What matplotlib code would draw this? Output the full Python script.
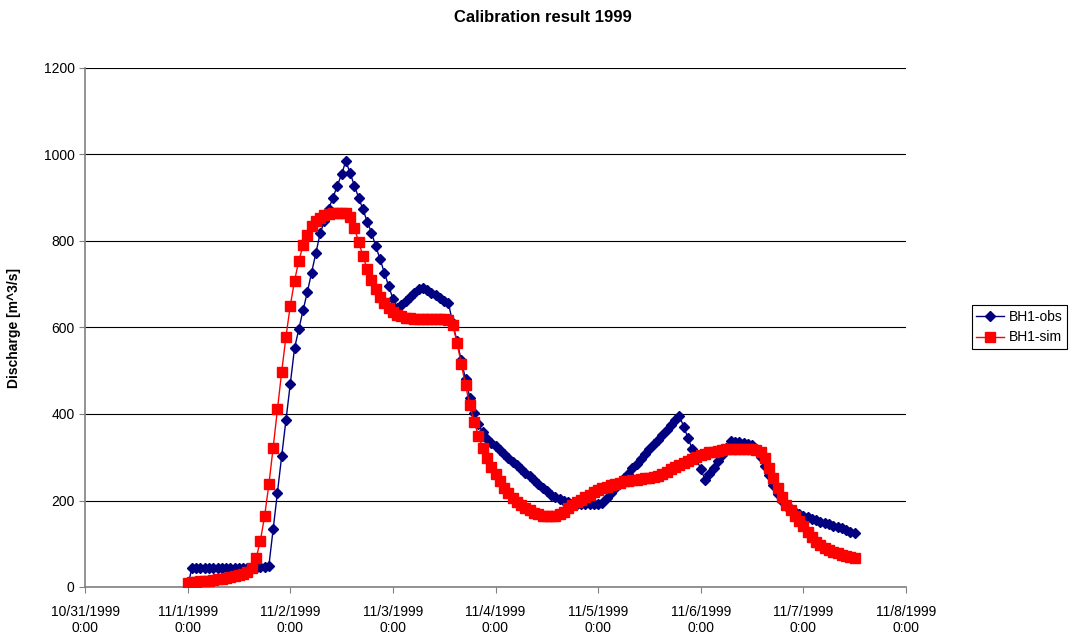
import pandas as pd
import matplotlib.pyplot as plt
import matplotlib.dates as mdates
from matplotlib.ticker import FuncFormatter

plt.rcParams['font.family'] = ['Liberation Sans', 'DejaVu Sans']

# hourly discharge [m^3/s], starting 11/1/1999 0:00
obs = [
    0, 45, 45, 45, 44, 44, 44, 43, 43, 43, 43, 43, 43, 44, 44, 45, 45, 46, 47, 49,
    134, 218, 303, 386, 470, 552, 596, 640, 682, 727, 773, 818, 846, 875, 900, 928,
    954, 985, 957, 928, 900, 873, 845, 819, 788, 758, 727, 696, 667, 645, 653, 662,
    671, 680, 688, 692, 686, 680, 674, 668, 662, 656, 610, 568, 524, 480, 438, 402,
    376, 358, 343, 333, 325, 316, 307, 299, 290, 282, 273, 264, 256, 247, 238, 229,
    221, 212, 208, 204, 200, 196, 193, 192, 191, 191, 191, 191, 192, 195, 206, 218,
    229, 240, 251, 262, 274, 285, 296, 307, 319, 330, 341, 352, 364, 375, 386, 396,
    371, 345, 319, 296, 273, 248, 262, 276, 291, 306, 321, 337, 336, 335, 333, 331,
    328, 318, 300, 280, 258, 236, 214, 198, 188, 180, 174, 169, 165, 161, 157, 154,
    151, 148, 145, 142, 139, 136, 132, 128, 124,
]
sim = [
    10, 11, 12, 13, 14, 15, 16, 18, 19, 21, 23, 25, 27, 30, 34, 43,
    66, 106, 164, 237, 322, 411, 498, 579, 650, 708, 754, 790, 815, 835, 846, 854,
    859, 862, 864, 865, 865, 864, 856, 830, 798, 765, 735, 710, 688, 670, 656, 645,
    636, 630, 626, 623, 621, 620, 619, 619, 619, 619, 619, 619, 619, 617, 606, 565,
    516, 466, 420, 382, 350, 321, 298, 278, 261, 245, 229, 217, 206, 197, 189, 182,
    177, 172, 168, 165, 164, 164, 165, 168, 174, 182, 190, 196, 202, 207, 213, 219,
    224, 228, 232, 235, 238, 241, 244, 246, 247, 248, 250, 251, 252, 254, 257, 261,
    266, 272, 277, 282, 287, 292, 297, 301, 305, 308, 311, 313, 315, 317, 318, 319,
    319, 320, 320, 320, 320, 317, 312, 298, 275, 252, 229, 208, 190, 177, 164, 152,
    140, 128, 116, 105, 97, 91, 85, 81, 78, 75, 72, 70, 68,
]
t_obs = pd.date_range("1999-11-01 00:00", periods=len(obs), freq="h")
t_sim = pd.date_range("1999-11-01 00:00", periods=len(sim), freq="h")

fig = plt.figure(figsize=(10.77, 6.41), dpi=100)
ax = fig.add_axes([85 / 1077, 1 - 587 / 641, 821 / 1077, 519 / 641])

ax.plot(t_obs, obs, color="#000080", lw=1.0, marker="D", ms=4.8,
        mec="#000080", mfc="#000080", label="BH1-obs", zorder=3)
ax.plot(t_sim, sim, color="#FF0000", lw=1.0, marker="s", ms=6.5,
        mec="#FF0000", mfc="#FF0000", label="BH1-sim", zorder=4)

ax.set_ylim(0, 1200)
ax.set_yticks(range(0, 1201, 200))
ax.set_xlim(pd.Timestamp("1999-10-31"), pd.Timestamp("1999-11-08"))
ax.xaxis.set_major_locator(mdates.DayLocator())


def day_label(x, pos):
    d = mdates.num2date(x)
    return f"{d.month}/{d.day}/{d.year}\n0:00"


ax.xaxis.set_major_formatter(FuncFormatter(day_label))

ax.yaxis.grid(True, color="#000000", lw=0.8)
ax.set_axisbelow(True)
for s in ("top", "right"):
    ax.spines[s].set_visible(False)
for s in ("left", "bottom"):
    ax.spines[s].set_color("#808080")
    ax.spines[s].set_linewidth(1.2)
ax.tick_params(axis="both", direction="out", length=4, color="#808080",
               labelsize=10, labelcolor="#000000")
ax.tick_params(axis="x", pad=9)

ax.set_ylabel("Discharge [m^3/s]", fontsize=10, fontweight="bold")
ax.yaxis.set_label_coords(-64 / 821, 0.5)
fig.text(543 / 1077, 1 - 17 / 641, "Calibration result 1999", ha="center",
         va="center", fontsize=12, fontweight="bold")

leg = ax.legend(loc="center right", bbox_to_anchor=(1067 / 1077, 1 - 327 / 641),
                bbox_transform=fig.transFigure, borderaxespad=0, fontsize=10,
                fancybox=False, framealpha=1, edgecolor="#000000",
                handlelength=2.0, handletextpad=0.3, borderpad=0.35,
                labelspacing=0.5)
leg.get_frame().set_linewidth(0.8)

fig.savefig("out.png", dpi=100)
